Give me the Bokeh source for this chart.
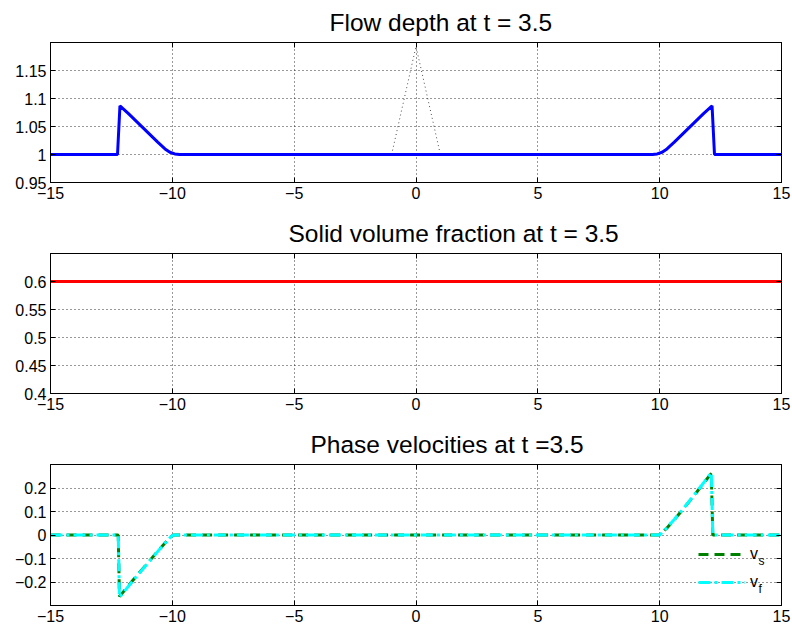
from bokeh.plotting import figure
from bokeh.layouts import column
from bokeh.models import (Range1d, FixedTicker, LinearAxis, Legend, LegendItem, Label)
from bokeh.embed import file_html
from bokeh.resources import INLINE

# ---------------- data ----------------
x_ticks = [-15, -10, -5, 0, 5, 10, 15]
x_tick_labels = ["\u221215", "\u221210", "\u22125", "0", "5", "10", "15"]

depth_x = [-15, -12.25, -12.15, -11.8, -11.4, -11.0, -10.6, -10.3, -10.1, -9.9, -9.7,
           9.7, 9.9, 10.1, 10.3, 10.6, 11.0, 11.4, 11.8, 12.15, 12.25, 15]
depth_h = [1.0, 1.0, 1.087, 1.073, 1.056, 1.039, 1.022, 1.010, 1.004, 1.001, 1.0,
           1.0, 1.001, 1.004, 1.010, 1.022, 1.039, 1.056, 1.073, 1.087, 1.0, 1.0]
init_x = [-1.0, 0.0, 1.0]
init_h = [1.0, 1.193, 1.0]
depth_yticks = [0.95, 1.0, 1.05, 1.1, 1.15]
depth_ylabels = ["0.95", "1", "1.05", "1.1", "1.15"]

phi_x = [-15, 15]
phi_v = [0.6, 0.6]
phi_yticks = [0.4, 0.45, 0.5, 0.55, 0.6]
phi_ylabels = ["0.4", "0.45", "0.5", "0.55", "0.6"]

vel_x = [-15, -12.22, -12.17, -11.5, -11.0, -10.5, -10.07, -9.95,
         9.95, 10.0, 10.3, 10.6, 11.0, 11.5, 12.12, 12.18, 15]
vs = [0.0, 0.0, -0.262, -0.178, -0.118, -0.057, -0.008, 0.0,
      0.0, 0.0, 0.03, 0.065, 0.115, 0.18, 0.262, 0.0, 0.0]
vf = [0.0, 0.0, -0.265, -0.180, -0.119, -0.058, -0.008, 0.0,
      0.0, 0.0, 0.031, 0.066, 0.116, 0.181, 0.265, 0.0, 0.0]
vel_yticks = [-0.2, -0.1, 0.0, 0.1, 0.2]
vel_ylabels = ["\u22120.2", "\u22120.1", "0", "0.1", "0.2"]

FONT = "Liberation Sans"


def make_fig(title, ylim, yticks, ylabels, height, top, bottom, title_left):
    p = figure(width=792, height=height, output_backend="svg", toolbar_location=None,
               x_range=Range1d(-15, 15), y_range=Range1d(*ylim),
               min_border_left=50, min_border_right=11,
               min_border_top=top, min_border_bottom=bottom)
    p.title.text = title
    p.title.align = "left"
    p.title.offset = title_left
    p.title.text_font = FONT
    p.title.text_font_size = "24.5px"
    p.title.text_font_style = "normal"
    p.title.text_color = "black"
    p.title.standoff = 13
    p.outline_line_color = "black"
    p.outline_line_width = 1
    p.background_fill_color = "white"
    p.border_fill_color = "white"
    xt = FixedTicker(ticks=x_ticks)
    yt = FixedTicker(ticks=yticks)
    for ax in p.xaxis:
        ax.ticker = xt
        ax.major_label_overrides = dict(zip(x_ticks, x_tick_labels))
    for ax in p.yaxis:
        ax.ticker = yt
        ax.major_label_overrides = dict(zip(yticks, ylabels))
    for ax in list(p.xaxis) + list(p.yaxis):
        ax.major_tick_in = 5
        ax.major_tick_out = 0
        ax.minor_tick_line_color = None
        ax.major_label_text_font = FONT
        ax.major_label_text_font_size = "16px"
        ax.major_label_text_color = "black"
        ax.axis_line_color = "black"
        ax.major_tick_line_color = "black"
        ax.major_label_standoff = 4
    # top and right tick marks (box on), labels not drawn
    top_ax = LinearAxis(ticker=xt, major_tick_in=5, major_tick_out=0,
                        minor_tick_line_color=None, major_label_text_font_size="1px",
                        major_label_text_color=None,
                        major_label_standoff=0, axis_line_color="black")
    right_ax = LinearAxis(ticker=yt, major_tick_in=5, major_tick_out=0,
                          minor_tick_line_color=None, major_label_text_font_size="1px",
                          major_label_text_color=None,
                          major_label_standoff=0, axis_line_color="black")
    p.add_layout(top_ax, "above")
    p.add_layout(right_ax, "right")
    p.xgrid.ticker = xt
    p.ygrid.ticker = yt
    for g in (p.xgrid, p.ygrid):
        g.grid_line_color = "black"
        g.grid_line_alpha = 0.8
        g.grid_line_width = 1
        g.grid_line_dash = "1 3"
    return p


p1 = make_fig("Flow depth at t = 3.5", (0.95, 1.2), depth_yticks, depth_ylabels, 211, 41, 29, 279)
p1.line(init_x, init_h, line_color="black", line_width=1, line_dash="1 3", line_alpha=0.7)
p1.line(depth_x, depth_h, line_color="#0000ff", line_width=3)

p2 = make_fig("Solid volume fraction at t = 3.5", (0.4, 0.65), phi_yticks, phi_ylabels, 211, 41, 29, 238)
p2.line(phi_x, phi_v, line_color="#ff0000", line_width=3)

p3 = make_fig("Phase velocities at t =3.5", (-0.3, 0.3), vel_yticks, vel_ylabels, 210, 42, 27, 260)
r_vs = p3.line(vel_x, vs, line_color="#008000", line_width=3, line_dash="10 6")
r_vf = p3.line(vel_x, vf, line_color="#00ffff", line_width=3, line_dash="12 4 3 4")

legend = Legend(items=[LegendItem(label="v", renderers=[r_vs]),
                       LegendItem(label="v", renderers=[r_vf])],
                location=(648, 13), border_line_color=None, background_fill_alpha=0,
                padding=0, margin=0, spacing=8, glyph_width=47, glyph_height=20,
                label_height=20, label_standoff=5, label_text_font=FONT,
                label_text_font_size="16px", label_text_color="black")
p3.add_layout(legend, "center")
for sub, yy in (("s", 45), ("f", 17)):
    p3.add_layout(Label(x=708, y=yy, x_units="screen", y_units="screen", text=sub,
                        text_font=FONT, text_font_size="12px", text_baseline="middle",
                        text_color="black"))

page = column(p1, p2, p3)
open("out.html", "w").write(file_html(page, INLINE))
